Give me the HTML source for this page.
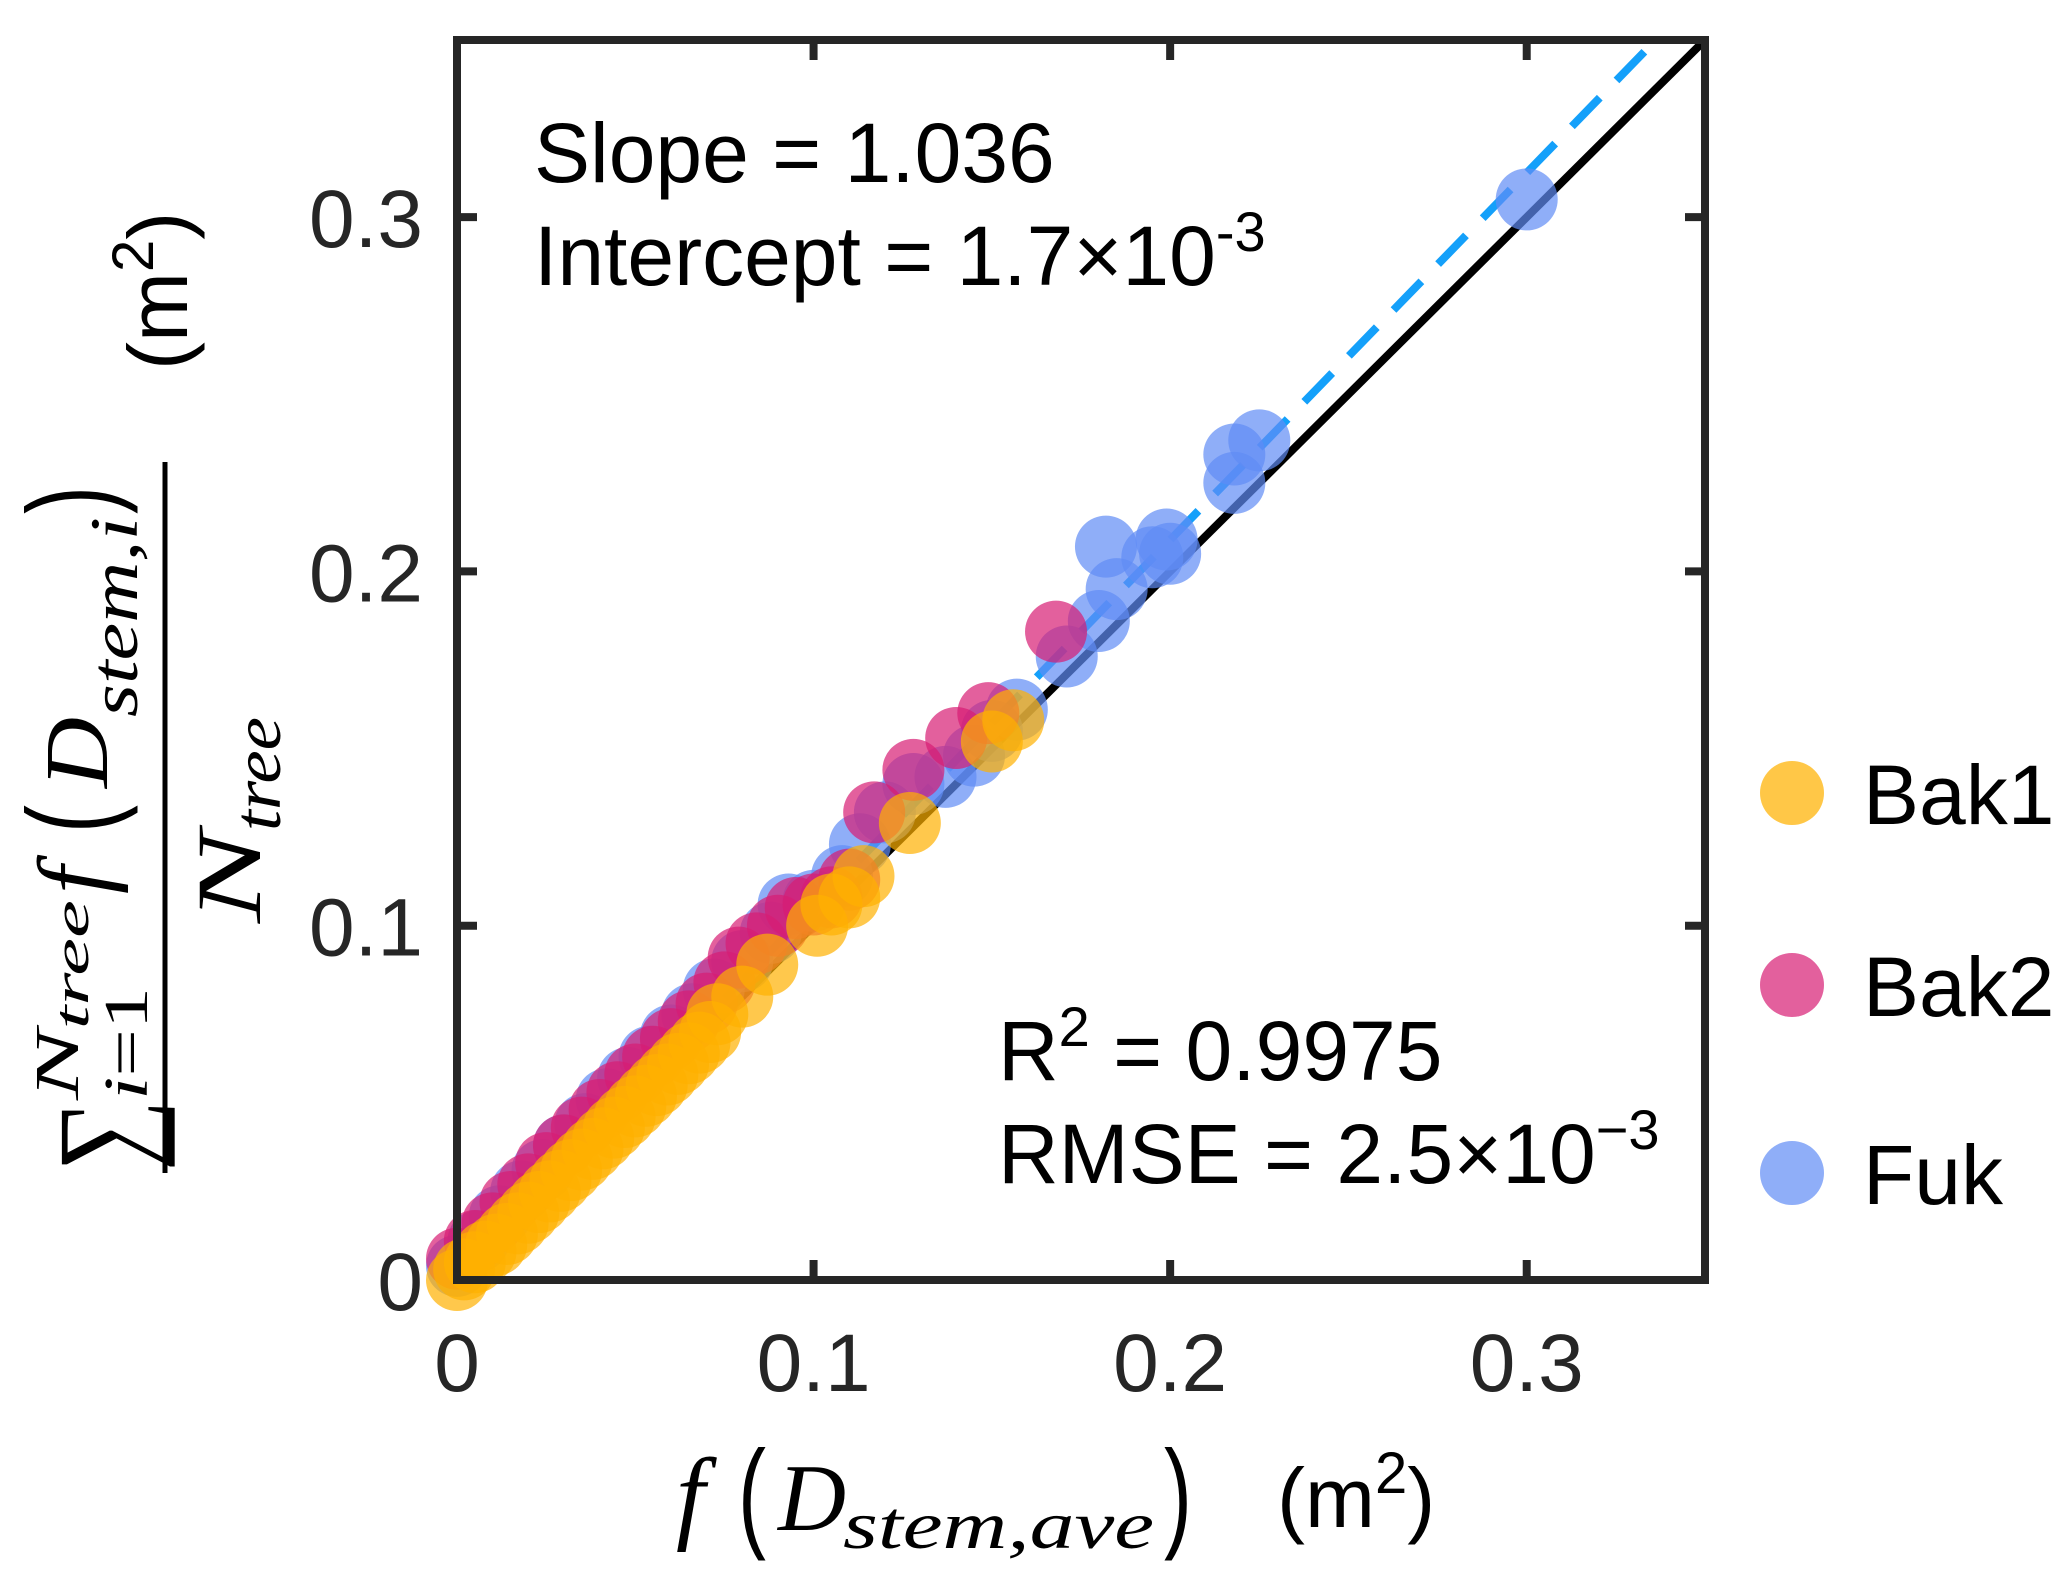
<!DOCTYPE html>
<html><head><meta charset="utf-8"><style>
html,body{margin:0;padding:0;background:#fff;}
svg{display:block;}
.tick{font-family:"Liberation Sans",sans-serif;font-size:82px;fill:#262626;}
.ann{font-family:"Liberation Sans",sans-serif;font-size:84px;fill:#000;}
.math{font-family:"Liberation Serif","DejaVu Serif",serif;font-style:italic;fill:#000;}
.par{font-family:"Liberation Sans",sans-serif;fill:#000;}
</style></head><body>
<svg id="chart" width="2067" height="1579" viewBox="0 0 2067 1579" xmlns="http://www.w3.org/2000/svg">
<g id="lines"></g>
<g id="points"></g>
<g id="axes"></g>
<text class="ann" x="534" y="182">Slope = 1.036</text>
<text class="ann" x="534" y="285">Intercept = 1.7×10<tspan dy="-34" font-size="56">-3</tspan></text>
<text class="ann" x="998" y="1080">R<tspan dy="-34" font-size="56">2</tspan><tspan dy="34"> = 0.9975</tspan></text>
<text class="ann" x="998" y="1183">RMSE = 2.5×10<tspan dy="-34" font-size="56">−3</tspan></text>
<g>
<text class="math" x="676" y="1530" font-size="104">f</text>
<text class="par" transform="translate(738,1535) scale(1,1.45)" font-size="84">(</text>
<text class="math" x="778" y="1530" font-size="95" textLength="68" lengthAdjust="spacingAndGlyphs">D</text>
<text class="math" x="843" y="1548" font-size="68" textLength="311" lengthAdjust="spacingAndGlyphs">stem,ave</text>
<text class="par" transform="translate(1164,1535) scale(1,1.45)" font-size="84">)</text>
<text class="ann" x="1277" y="1527" font-size="90">(m<tspan dy="-34" font-size="58">2</tspan><tspan dy="34">)</tspan></text>
</g>
<g>
<line x1="165" y1="462" x2="165" y2="1173" stroke="#000" stroke-width="5"/>
<g transform="translate(137,822) rotate(-90)">
<text class="math" x="-349" y="10" font-size="130" font-style="normal" textLength="71" lengthAdjust="spacingAndGlyphs">∑</text>
<text class="math" x="-278" y="-59" font-size="62" textLength="200" lengthAdjust="spacingAndGlyphs">N<tspan font-size="50" dy="10">tree</tspan></text>
<text class="math" x="-278" y="10" font-size="62" textLength="113" lengthAdjust="spacingAndGlyphs">i<tspan font-style="normal">=1</tspan></text>
<text class="math" x="-72" y="-30" font-size="100">f</text>
<text class="par" transform="translate(-11,-25) scale(1,1.45)" font-size="84">(</text>
<text class="math" x="34" y="-30" font-size="90" textLength="71" lengthAdjust="spacingAndGlyphs">D</text>
<text class="math" x="105" y="0" font-size="68" textLength="200" lengthAdjust="spacingAndGlyphs">stem,i</text>
<text class="par" transform="translate(308,-25) scale(1,1.45)" font-size="84">)</text>
<text class="math" x="-101" y="123" font-size="92" textLength="92" lengthAdjust="spacingAndGlyphs">N</text>
<text class="math" x="-9" y="143" font-size="68" textLength="114" lengthAdjust="spacingAndGlyphs">tree</text>
<text class="ann" x="452" y="50" font-size="90">(m<tspan dy="-34" font-size="58">2</tspan><tspan dy="34">)</tspan></text>
</g>
</g>
<g>
<circle cx="1792" cy="793" r="32" fill="#FFB100" fill-opacity="0.72"/>
<text class="ann" x="1863" y="824" font-size="86">Bak1</text>
<circle cx="1792" cy="985" r="32" fill="#D71C74" fill-opacity="0.7"/>
<text class="ann" x="1863" y="1016" font-size="86">Bak2</text>
<circle cx="1792" cy="1173" r="32" fill="#5F8BF5" fill-opacity="0.7"/>
<text class="ann" x="1863" y="1204" font-size="86">Fuk</text>
</g>
</svg>
<script>
const fukX=[0.000,0.006,0.012,0.018,0.024,0.030,0.036,0.042,0.048,0.054,0.060,0.066,0.072,0.080,0.088,0.093,0.100,0.108,0.113,0.120,0.128,0.137,0.145,0.150,0.157,0.171,0.180,0.185,0.195,0.200,0.199,0.182,0.218,0.218,0.225,0.300];
const fukY=[0.004,0.011,0.018,0.025,0.031,0.038,0.044,0.051,0.057,0.063,0.069,0.075,0.082,0.090,0.098,0.106,0.107,0.114,0.123,0.132,0.140,0.142,0.148,0.155,0.161,0.176,0.186,0.195,0.204,0.205,0.209,0.207,0.225,0.233,0.237,0.305];
const bak2X=[0.000,0.005,0.010,0.015,0.020,0.025,0.030,0.035,0.040,0.045,0.050,0.055,0.060,0.065,0.070,0.075,0.079,0.084,0.090,0.095,0.100,0.105,0.110,0.117,0.128,0.140,0.149,0.168];
const bak2Y=[0.006,0.011,0.016,0.022,0.027,0.033,0.038,0.043,0.048,0.053,0.058,0.063,0.068,0.073,0.078,0.084,0.091,0.095,0.100,0.105,0.106,0.108,0.113,0.132,0.144,0.153,0.160,0.183];
const bak1X=[0.000,0.002,0.005,0.008,0.011,0.014,0.017,0.020,0.023,0.026,0.029,0.032,0.035,0.038,0.041,0.044,0.047,0.050,0.053,0.056,0.059,0.062,0.065,0.068,0.071,0.073,0.080,0.087,0.101,0.105,0.110,0.114,0.127,0.150,0.156];
const bak1Y=[0.000,0.003,0.005,0.008,0.010,0.013,0.016,0.019,0.022,0.025,0.028,0.031,0.034,0.037,0.040,0.043,0.046,0.049,0.052,0.055,0.058,0.061,0.064,0.067,0.070,0.075,0.080,0.089,0.100,0.106,0.108,0.114,0.129,0.152,0.158];
const xTicks=[0,0.1,0.2,0.3];
const yTicks=[0,0.1,0.2,0.3];
const xTickLabels=["0","0.1","0.2","0.3"];
const yTickLabels=["0","0.1","0.2","0.3"];
const fitSlope=1.036, fitIntercept=0.0017;

const NS="http://www.w3.org/2000/svg";
const L=457,R=1705,T=40,B=1280,MAX=0.35;
const sx=v=>L+v/MAX*(R-L);
const sy=v=>B-v/MAX*(B-T);
function mk(tag,attrs,parent){const e=document.createElementNS(NS,tag);for(const k in attrs)e.setAttribute(k,attrs[k]);parent.appendChild(e);return e;}

const lines=document.getElementById('lines');
const oneToOne=mk('line',{x1:sx(0),y1:sy(0),x2:sx(MAX),y2:sy(MAX),stroke:'#000','stroke-width':8},lines);


const xEnd=(MAX-fitIntercept)/fitSlope;
const fit=mk('line',{x1:sx(0),y1:sy(fitIntercept),x2:sx(xEnd),y2:sy(MAX),stroke:'#14A0FA','stroke-width':8,'stroke-dasharray':'40 24'},lines);



const pts=document.getElementById('points');
function series(xs,ys,color,name){
  for(let i=0;i<xs.length;i++){
    const c=mk('circle',{cx:sx(xs[i]),cy:sy(ys[i]),r:31,fill:color,'fill-opacity':0.7},pts);
    
    
  }
}
series(fukX,fukY,'#5F8BF5','fuk');
series(bak2X,bak2Y,'#D71C74','bak2');
series(bak1X,bak1Y,'#FFB100','bak1');

const ax=document.getElementById('axes');
const frame=mk('rect',{x:L,y:T,width:R-L,height:B-T,fill:'none',stroke:'#262626','stroke-width':8},ax);


xTicks.forEach((v,i)=>{
  const x=sx(v);
  if(v>0){
    const t1=mk('line',{x1:x,y1:B,x2:x,y2:B-20,stroke:'#262626','stroke-width':8},ax);
    
    
    const t2=mk('line',{x1:x,y1:T,x2:x,y2:T+20,stroke:'#262626','stroke-width':8},ax);
    
    
  }
  const lb=mk('text',{x:x,y:1391,'text-anchor':'middle','class':'tick'},ax);
  lb.textContent=xTickLabels[i];
  
  
});
yTicks.forEach((v,i)=>{
  const y=sy(v);
  if(v>0){
    const t1=mk('line',{x1:L,y1:y,x2:L+20,y2:y,stroke:'#262626','stroke-width':8},ax);
    
    
    const t2=mk('line',{x1:R,y1:y,x2:R-20,y2:y,stroke:'#262626','stroke-width':8},ax);
    
    
  }
  const lb=mk('text',{x:423,y:y+30,'text-anchor':'end','class':'tick'},ax);
  lb.textContent=yTickLabels[i];
  
  
});
</script>
</body></html>
